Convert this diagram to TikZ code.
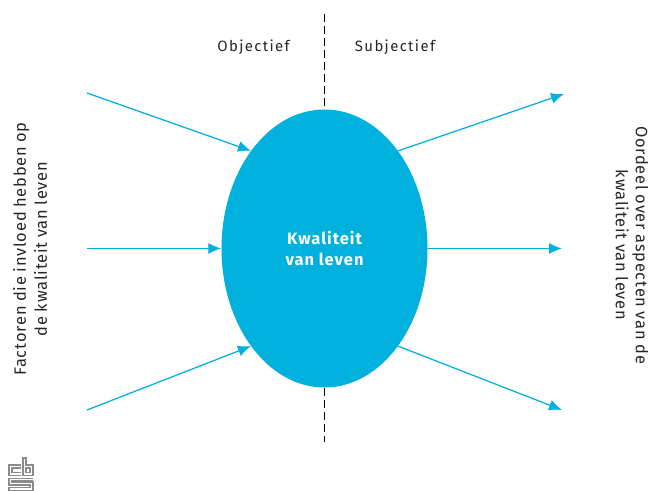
\documentclass[tikz,border=0pt]{standalone}
\usepackage{fontspec}
\setmainfont{Fira Sans}
\newfontfamily\spaced{Fira Sans}[LetterSpace=9]
\newfontfamily\body{Fira Sans}[LetterSpace=5,WordSpace=0.85]
\newfontfamily\bodyb{Fira Sans}[LetterSpace=6,BoldFont={Fira Sans Bold}]
\usetikzlibrary{shapes.geometric,arrows.meta}
\definecolor{cbsblue}{HTML}{00B1DE}
\definecolor{logogray}{HTML}{8C8C8C}
\tikzset{
  blob/.style={ellipse,fill=cbsblue,draw=none,minimum width=206bp,minimum height=278bp,inner sep=0pt,text=white,align=center,font=\bodyb\fontsize{16.5}{21}\selectfont\bfseries},
  flow/.style={draw=cbsblue,line width=1.25bp,-{Latex[length=13bp,width=11bp]}},
  divider/.style={draw=black,line width=1bp,dash pattern=on 8bp off 4bp},
  head/.style={font=\spaced\fontsize{15}{17}\selectfont,text=black!85},
  side/.style={font=\body\fontsize{16.5}{21}\selectfont,text=black!85,align=center,rotate=90},
  sider/.style={font=\body\fontsize{16.5}{20}\selectfont,text=black!85,align=center,rotate=-90},
  logo/.style={draw=logogray,line width=1.1bp}
}
\begin{document}
\begin{tikzpicture}[x=1bp,y=-1bp]
\useasboundingbox (0,0) rectangle (651,491);
\fill[white] (0,0) rectangle (651,491);
\coordinate (dt) at (324.5,14);
\coordinate (db) at (324.5,442);
\coordinate (l1) at (87,93);
\coordinate (l2) at (87,248.5);
\coordinate (l3) at (87,410);
\coordinate (r1) at (564,94);
\coordinate (r2) at (562,248.5);
\coordinate (r3) at (562,410);
\node[blob] (k) at (324.5,248.5) {Kwaliteit\\van leven};
\draw[divider] (dt) -- (k.north);
\draw[divider] (k.south) -- (db);
\draw[flow] (l1) -- (k.127.2);
\draw[flow] (l2) -- (k.west);
\draw[flow] (l3) -- (k.233);
\draw[flow] (k.53.5) -- (r1);
\draw[flow] (k.east) -- (r2);
\draw[flow] (k.-53) -- (r3);
\node[head] (obj) at (253.5,47) {Objectief};
\node[head] (sub) at (395,47) {Subjectief};
\node[side] (lt) at (30,249) {Factoren die invloed hebben op\\de kwaliteit van leven};
\node[sider] (rt) at (632,245) {Oordeel over aspecten van de\\kwaliteit van leven};
% logo
\draw[logo] (20.5,465) -- (9,465) -- (9,475.5) -- (20.5,475.5);
\draw[logo] (20.5,468) -- (12,468) -- (12,472.5) -- (20.5,472.5);
\draw[logo] (23,458) -- (23,475.5) -- (33,475.5) -- (33,465) -- (26,465) -- (26,458) -- cycle;
\draw[logo] (26,468) -- (30,468) -- (30,472.5) -- (26,472.5) -- cycle;
\draw[logo] (33,478.5) -- (9,478.5) -- (9,485) -- (30,485) -- (30,487.5) -- (9,487.5) -- (9,490.5) -- (33,490.5) -- (33,482) -- (12,482) -- (12,481) -- (33,481);
\end{tikzpicture}
\end{document}
